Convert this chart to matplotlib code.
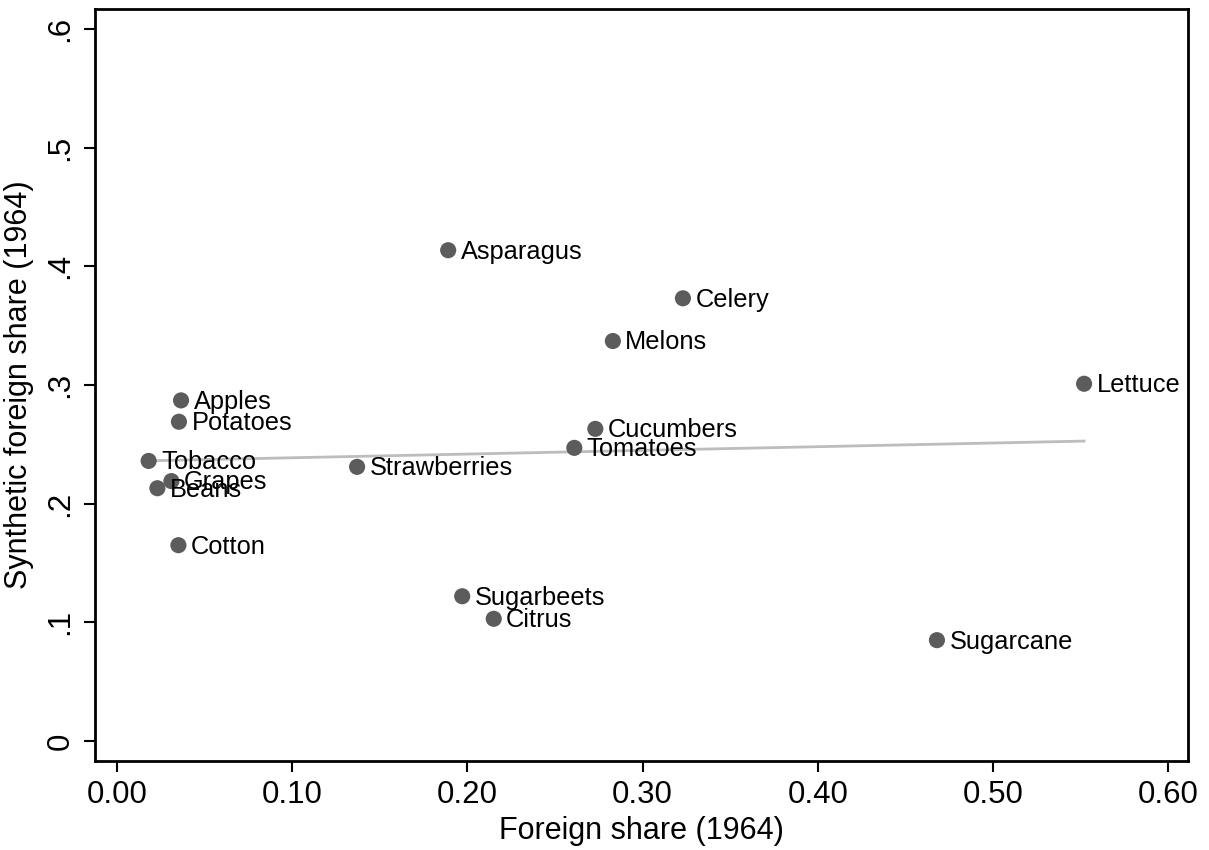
import numpy as np
import matplotlib
matplotlib.use('Agg')
import matplotlib.pyplot as plt

plt.rcParams['font.family'] = ['Liberation Sans', 'DejaVu Sans']

crops = ['Asparagus', 'Celery', 'Melons', 'Lettuce', 'Apples', 'Potatoes',
         'Cucumbers', 'Tomatoes', 'Tobacco', 'Strawberries', 'Grapes',
         'Beans', 'Cotton', 'Sugarbeets', 'Citrus', 'Sugarcane']
foreign = [0.189, 0.323, 0.283, 0.552, 0.0365, 0.0353,
           0.273, 0.261, 0.018, 0.137, 0.031,
           0.023, 0.035, 0.197, 0.215, 0.468]
synthetic = [0.4135, 0.373, 0.337, 0.301, 0.287, 0.269,
             0.263, 0.247, 0.236, 0.231, 0.219,
             0.213, 0.165, 0.122, 0.103, 0.085]

x = np.array(foreign)
y = np.array(synthetic)

fig = plt.figure(figsize=(12.09, 8.5), dpi=100)
ax = fig.add_axes([0.0786, 0.1047, 0.904, 0.8847])

# linear fit over the data range
b, a = np.polyfit(x, y, 1)
xs = np.array([x.min(), x.max()])
ax.plot(xs, a + b * xs, color='#bdbdbd', lw=2, zorder=1)

ax.scatter(x, y, s=135, color='#5c5c5c', edgecolors='none', zorder=2)
# labels overlap in a few places, same as the original
for name, xi, yi in zip(crops, x, y):
    ax.annotate(name, (xi, yi), xytext=(9, -1), textcoords='offset points',
                va='center', ha='left', fontsize=18.3, color='black', zorder=3)

ax.set_xlim(-0.0126, 0.6113)
ax.set_ylim(-0.0168, 0.6167)
ax.set_xticks([0, 0.1, 0.2, 0.3, 0.4, 0.5, 0.6])
ax.set_xticklabels(['0.00', '0.10', '0.20', '0.30', '0.40', '0.50', '0.60'])
ax.set_yticks([0, 0.1, 0.2, 0.3, 0.4, 0.5, 0.6])
ax.set_yticklabels(['0', '.1', '.2', '.3', '.4', '.5', '.6'], rotation=90, va='center')
ax.tick_params(axis='both', direction='out', length=8, width=1.5, labelsize=22.5, pad=6)
for sp in ax.spines.values():
    sp.set_linewidth(2)
ax.set_xlabel('Foreign share (1964)', fontsize=22, labelpad=4)
ax.set_ylabel('Synthetic foreign share (1964)', fontsize=22, labelpad=8)

fig.savefig('out.png', dpi=100)
